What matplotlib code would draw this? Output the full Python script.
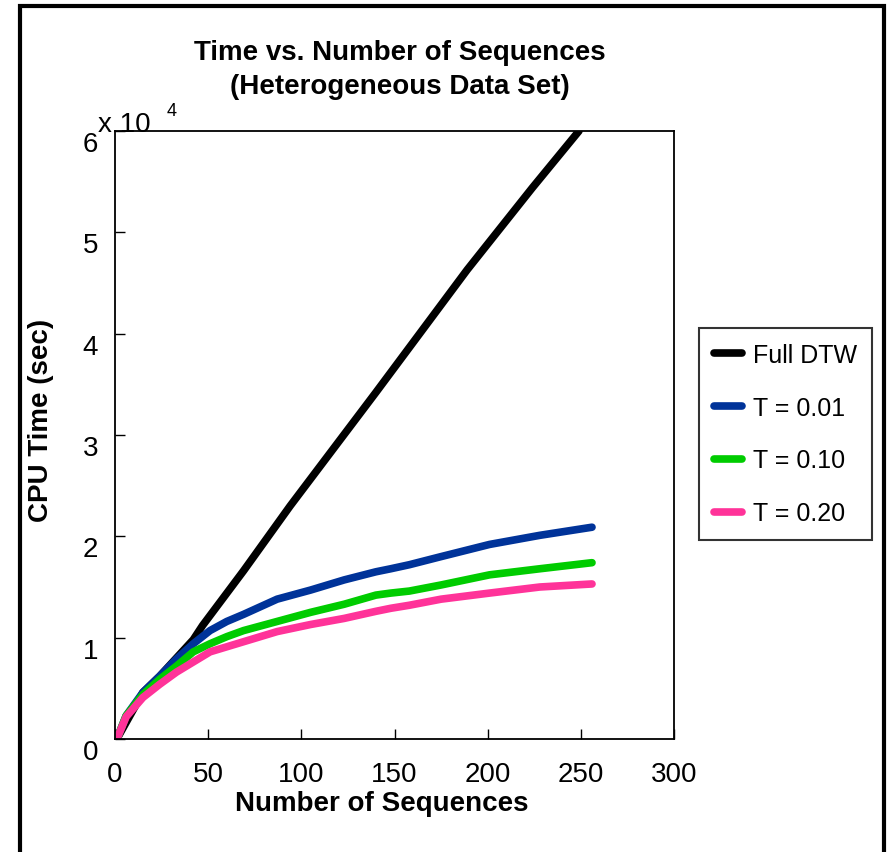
import matplotlib
matplotlib.use("Agg")
import matplotlib.pyplot as plt
from matplotlib.patches import Rectangle

plt.rcParams['font.family'] = ['Liberation Sans', 'DejaVu Sans']

# values (CPU time in seconds)
seq_full = [1, 15, 24, 33, 42, 47, 69, 94, 140, 189, 224, 249]
full_dtw = [0, 4600, 6200, 8000, 9800, 11200, 16600, 23000, 34200, 46300, 54400, 60000]

seq = [1, 6, 15, 24, 33, 42, 51, 60, 69, 87, 105, 123, 140, 148, 158, 175, 201, 228, 256]
t001 = [0, 2300, 4600, 6200, 7900, 9400, 10700, 11600, 12300, 13800, 14700, 15700,
        16500, 16800, 17200, 18000, 19200, 20100, 20900]
t010 = [0, 2300, 4400, 5900, 7200, 8600, 9400, 10100, 10700, 11600, 12500, 13300,
        14200, 14400, 14600, 15200, 16200, 16800, 17400]
t020 = [0, 2200, 4100, 5400, 6600, 7600, 8600, 9100, 9600, 10600, 11300, 11900,
        12600, 12900, 13200, 13800, 14400, 15000, 15300]

labels = ["Full DTW", "T = 0.01", "T = 0.10", "T = 0.20"]
colors = ["#000000", "#003399", "#00cc00", "#ff3399"]

fig = plt.figure(figsize=(8.88, 8.53), dpi=100)
ax = fig.add_axes([115/888, 113/853, 559/888, 608/853])

ax.plot(seq_full, full_dtw, color=colors[0], lw=5.5, solid_capstyle="round", label=labels[0])
ax.plot(seq, t001, color=colors[1], lw=5.5, solid_capstyle="round", label=labels[1])
ax.plot(seq, t010, color=colors[2], lw=5.5, solid_capstyle="round", label=labels[2])
ax.plot(seq, t020, color=colors[3], lw=5.5, solid_capstyle="round", label=labels[3])

ax.set_xlim(0, 300)
ax.set_ylim(0, 60000)
ax.set_xticks(range(0, 301, 50))
ax.set_yticks(range(0, 60001, 10000))
ax.set_yticklabels([str(i) for i in range(7)])
ax.tick_params(direction="in", length=7, width=1, labelsize=20, top=False, right=False)
ax.tick_params(axis="x", pad=16)
ax.tick_params(axis="y", pad=12)
for lab in ax.get_yticklabels():
    lab.set_va("top")
for sp in ax.spines.values():
    sp.set_linewidth(1.3)

ax.set_xlabel("Number of Sequences", fontsize=20, fontweight="bold")
ax.set_ylabel("CPU Time (sec)", fontsize=20, fontweight="bold")
ax.xaxis.set_label_coords(0.478, -0.084)
ax.yaxis.set_label_coords(-0.11, 0.525)

fig.text(400/888, 1 - 70/853, "Time vs. Number of Sequences\n(Heterogeneous Data Set)",
         ha="center", va="center", fontsize=20, fontweight="bold", linespacing=1.4)
fig.text(98/888, 1 - 125/853, "x 10", ha="left", va="center", fontsize=20)
fig.text(172/888, 1 - 112/853, "4", ha="center", va="center", fontsize=13)

leg = ax.legend(loc="upper left", bbox_to_anchor=(699/888, 1 - 329/853),
                bbox_transform=fig.transFigure, fontsize=18, frameon=True,
                fancybox=False, edgecolor="black", handlelength=1.1,
                handletextpad=0.45, labelspacing=1.15, borderpad=0.6, borderaxespad=0)
leg.get_frame().set_linewidth(1.5)

# outer frame around the figure (bottom edge runs off the image)
fig.patches.append(Rectangle((20/888, -0.05), 864/888, 1.05 - 7/853, transform=fig.transFigure,
                             fill=False, edgecolor="black", lw=3, figure=fig))

fig.savefig("out.png", dpi=100)
